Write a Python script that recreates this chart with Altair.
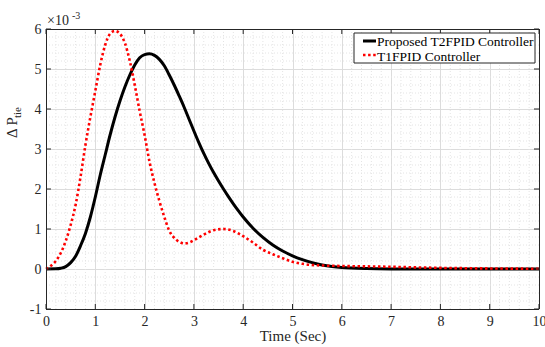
import altair as alt
import pandas as pd

# Time (s) and Delta P_tie values in units of 1e-3
t_t2 = [0, 0.2, 0.3, 0.4, 0.5, 0.6, 0.7, 0.8, 0.9, 1.0, 1.1, 1.2, 1.3, 1.4, 1.5, 1.6, 1.7, 1.8, 1.9,
        2.0, 2.1, 2.2, 2.3, 2.4, 2.5, 2.6, 2.7, 2.8, 2.9, 3.0, 3.1, 3.2, 3.3, 3.4, 3.5, 3.6, 3.7, 3.8, 3.9,
        4.0, 4.2, 4.4, 4.6, 4.8, 5.0, 5.2, 5.4, 5.6, 5.8, 6.0, 6.5, 7.0, 8.0, 9.0, 10.0]
v_t2 = [0, 0.005, 0.02, 0.06, 0.16, 0.32, 0.58, 0.89, 1.3, 1.8, 2.35, 2.85, 3.35, 3.8, 4.2, 4.55, 4.85, 5.1, 5.28,
        5.36, 5.38, 5.34, 5.24, 5.08, 4.85, 4.6, 4.33, 4.05, 3.75, 3.45, 3.16, 2.89, 2.64, 2.41, 2.2, 2.0, 1.81, 1.63, 1.46,
        1.3, 1.02, 0.79, 0.6, 0.45, 0.33, 0.235, 0.16, 0.1, 0.06, 0.035, 0.01, 0.003, 0.0, 0.0, 0.0]

t_t1 = [0, 0.1, 0.2, 0.3, 0.4, 0.5, 0.6, 0.7, 0.8, 0.9, 1.0, 1.1, 1.2, 1.3, 1.4, 1.5, 1.6, 1.7, 1.8, 1.9,
        2.0, 2.1, 2.2, 2.3, 2.4, 2.5, 2.6, 2.7, 2.8, 2.9, 3.0, 3.2, 3.4, 3.6, 3.8, 4.0, 4.2, 4.4, 4.6, 4.8,
        5.0, 5.2, 5.4, 5.7, 6.0, 6.5, 7.0, 7.5, 8.0, 9.0, 10.0]
v_t1 = [0, 0.08, 0.2, 0.4, 0.7, 1.1, 1.6, 2.3, 3.1, 3.8, 4.45, 5.1, 5.6, 5.88, 5.95, 5.88, 5.65, 5.2, 4.6, 3.95,
        3.35, 2.68, 2.15, 1.7, 1.3, 0.96, 0.78, 0.68, 0.64, 0.66, 0.72, 0.86, 0.97, 1.0, 0.95, 0.82, 0.66, 0.48, 0.37, 0.27,
        0.18, 0.13, 0.1, 0.085, 0.075, 0.065, 0.055, 0.04, 0.028, 0.014, 0.006]

names = ["Proposed T2FPID Controller", "T1FPID Controller"]
x_ticks = list(range(0, 11))
y_ticks = list(range(-1, 7))
x_minor = [round(i * 0.2, 1) for i in range(51) if i % 5]
y_minor = [round(-1 + i * 0.2, 1) for i in range(36) if i % 5]

W, H = 493, 280
FONT = "Liberation Serif"

df2 = pd.DataFrame({"t": t_t2, "v": v_t2})
df1 = pd.DataFrame({"t": t_t1, "v": v_t1})

xs = alt.Scale(domain=[0, 10], nice=False, zero=False)
ys = alt.Scale(domain=[-1, 6], nice=False, zero=False)

x_axis = alt.Axis(values=x_ticks, grid=True, gridColor="#dcdcdc", gridWidth=1, ticks=False, domain=False,
                  labelFont=FONT, labelFontSize=14, labelColor="#262626", labelPadding=5,
                  labelOverlap=False, labelFlush=False, labelBound=False,
                  title="Time (Sec)", titleFont=FONT, titleFontSize=15, titleFontWeight="normal",
                  titleColor="#262626", titleY=31, titleBaseline="alphabetic")
y_axis = alt.Axis(values=y_ticks, grid=True, gridColor="#dcdcdc", gridWidth=1, ticks=False, domain=False,
                  labelFont=FONT, labelFontSize=14, labelColor="#262626", labelPadding=5,
                  labelOverlap=False, labelFlush=False, labelBound=False, title=None,
                  labelExpr="replace(datum.label, '\u2212', '-')")


def X(field):
    return alt.X(field, type="quantitative", scale=xs, axis=x_axis)


def Y(field):
    return alt.Y(field, type="quantitative", scale=ys, axis=y_axis)


base_x = pd.DataFrame({"mx": x_minor})
base_y = pd.DataFrame({"my": y_minor})

minor_x = alt.Chart(base_x).mark_rule(color="#e4e4e4", strokeWidth=1, strokeDash=[1, 2]).encode(x=X("mx"))
minor_y = alt.Chart(base_y).mark_rule(color="#e4e4e4", strokeWidth=1, strokeDash=[1, 2]).encode(y=Y("my"))

line_t2 = alt.Chart(df2).mark_line(color="black", strokeWidth=3, interpolate="monotone").encode(
    x=X("t"), y=Y("v"))
line_t1 = alt.Chart(df1).mark_line(color="#ff0000", strokeWidth=2.6, strokeDash=[2.5, 2.6],
                                  strokeCap="butt", interpolate="monotone").encode(
    x=X("t"), y=Y("v"))

tx = pd.DataFrame({"tx": x_ticks})
ty = pd.DataFrame({"ty": y_ticks})
tick_col = "#262626"
tick_b = alt.Chart(tx).mark_rule(color=tick_col, strokeWidth=1).encode(
    x=X("tx"), y=alt.value(H), y2=alt.value(H - 5))
tick_t = alt.Chart(tx).mark_rule(color=tick_col, strokeWidth=1).encode(
    x=X("tx"), y=alt.value(0), y2=alt.value(5))
tick_l = alt.Chart(ty).mark_rule(color=tick_col, strokeWidth=1).encode(
    y=Y("ty"), x=alt.value(0), x2=alt.value(5))
tick_r = alt.Chart(ty).mark_rule(color=tick_col, strokeWidth=1).encode(
    y=Y("ty"), x=alt.value(W), x2=alt.value(W - 5))

one = pd.DataFrame({"a": [0]})

# plot box
box_top = alt.Chart(one).mark_rule(color=tick_col, strokeWidth=1).encode(
    x=alt.value(0), x2=alt.value(W), y=alt.value(0.5))
box_bot = alt.Chart(one).mark_rule(color=tick_col, strokeWidth=1).encode(
    x=alt.value(0), x2=alt.value(W), y=alt.value(H + 0.5))
box_left = alt.Chart(one).mark_rule(color=tick_col, strokeWidth=1).encode(
    x=alt.value(0.5), y=alt.value(0), y2=alt.value(H))
box_right = alt.Chart(one).mark_rule(color=tick_col, strokeWidth=1).encode(
    x=alt.value(W + 0.5), y=alt.value(0), y2=alt.value(H))

# exponent label
exp_main = alt.Chart(one).mark_text(text="×10", font=FONT, fontSize=14, color="#262626",
                                    align="left", baseline="alphabetic").encode(
    x=alt.value(1), y=alt.value(-4))
exp_sup = alt.Chart(one).mark_text(text="-3", font=FONT, fontSize=10, color="#262626",
                                   align="left", baseline="alphabetic").encode(
    x=alt.value(26), y=alt.value(-10))

# y title: Delta P_tie
ylab_main = alt.Chart(one).mark_text(text="Δ P", font=FONT, fontSize=15, color="#262626",
                                     align="left", baseline="alphabetic", angle=270).encode(
    x=alt.value(-29), y=alt.value(109))
ylab_sub = alt.Chart(one).mark_text(text="tie", font=FONT, fontSize=11, color="#262626",
                                    align="left", baseline="alphabetic", angle=270).encode(
    x=alt.value(-25), y=alt.value(89))

# legend
leg_box = alt.Chart(one).mark_rect(fill="white", stroke="#262626", strokeWidth=1).encode(
    x=alt.value(308), x2=alt.value(489), y=alt.value(4), y2=alt.value(34))
leg_l1 = alt.Chart(one).mark_rule(color="black", strokeWidth=3).encode(
    x=alt.value(317), x2=alt.value(330), y=alt.value(12))
leg_l2 = alt.Chart(one).mark_rule(color="#ff0000", strokeWidth=2.6, strokeDash=[2.5, 2.6], strokeCap="butt").encode(
    x=alt.value(317), x2=alt.value(330), y=alt.value(26))
leg_t1 = alt.Chart(one).mark_text(text=names[0], font=FONT, fontSize=13.5, color="black",
                                  align="left", baseline="alphabetic").encode(
    x=alt.value(331), y=alt.value(17))
leg_t2 = alt.Chart(one).mark_text(text=names[1], font=FONT, fontSize=13.5, color="black",
                                  align="left", baseline="alphabetic").encode(
    x=alt.value(331), y=alt.value(31.5))

chart = alt.layer(
    minor_x, minor_y, line_t2, line_t1, tick_b, tick_t, tick_l, tick_r,
    box_top, box_bot, box_left, box_right,
    exp_main, exp_sup, ylab_main, ylab_sub,
    leg_box, leg_l1, leg_l2, leg_t1, leg_t2
).properties(
    width=W, height=H,
    autosize=alt.AutoSizeParams(type="none"),
    padding={"left": 46, "top": 29, "right": 6, "bottom": 38},
    background="white",
).configure_view(strokeWidth=0).configure_axis(labelOverlap=False)

chart.save("out.html", embed_options={"renderer": "svg", "actions": False})
